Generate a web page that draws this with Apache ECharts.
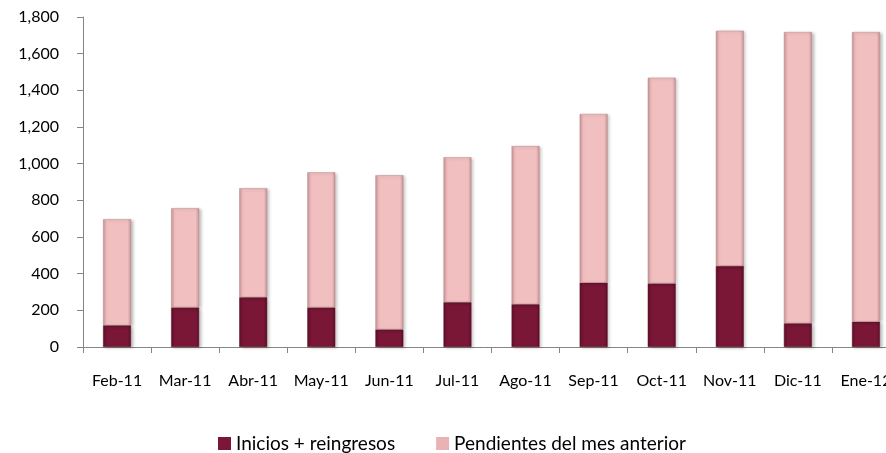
<!DOCTYPE html>
<html>
<head>
<meta charset="utf-8">
<script src="https://cdn.jsdelivr.net/npm/echarts@6/dist/echarts.min.js"></script>
<style>html,body{margin:0;padding:0;background:#fff}#c{width:886px;height:453px}</style>
</head>
<body>
<div id="c"></div>
<script>
const categories = ['Feb-11','Mar-11','Abr-11','May-11','Jun-11','Jul-11','Ago-11','Sep-11','Oct-11','Nov-11','Dic-11','Ene-12'];
const inicios = [118, 216, 271, 216, 96, 244, 233, 351, 347, 442, 129, 138];
const pendientes = [579, 541, 595, 737, 841, 791, 863, 920, 1122, 1283, 1589, 1580];
const seriesNames = ['Inicios + reingresos', 'Pendientes del mes anterior'];

const FONT = 'Lato';
function grad(edge, mid) {
  return new echarts.graphic.LinearGradient(0, 0, 1, 0, [
    {offset: 0, color: edge}, {offset: 0.12, color: mid},
    {offset: 0.88, color: mid}, {offset: 1, color: edge}
  ]);
}
const chart = echarts.init(document.getElementById('c'), null, {renderer: 'canvas'});
chart.setOption({
  animation: false,
  backgroundColor: '#ffffff',
  grid: {left: 83, width: 817, top: 17, height: 330, containLabel: false, outerBoundsMode: 'none'},
  legend: {
    top: 429, left: 213,
    itemWidth: 13, itemHeight: 13, itemGap: 41,
    textStyle: {fontFamily: FONT, fontSize: 19, color: '#000'},
    data: [
      {name: seriesNames[0], icon: 'rect', itemStyle: {color: '#7a1636', borderWidth: 0}},
      {name: seriesNames[1], icon: 'rect', itemStyle: {color: '#e9b2b4', borderWidth: 0}}
    ]
  },
  xAxis: {
    type: 'category', data: categories, boundaryGap: true,
    axisLine: {lineStyle: {color: '#868686', width: 1}},
    axisTick: {show: true, alignWithLabel: false, length: 6, lineStyle: {color: '#868686'}},
    axisLabel: {fontFamily: FONT, fontSize: 16, color: '#000', margin: 26, interval: 0}
  },
  yAxis: {
    type: 'value', min: 0, max: 1800, interval: 200,
    axisLine: {show: true, lineStyle: {color: '#868686', width: 1}},
    axisTick: {show: true, length: 6, lineStyle: {color: '#868686'}},
    splitLine: {show: false},
    axisLabel: {fontFamily: FONT, fontSize: 16, color: '#000', margin: 24,
      formatter: v => v.toLocaleString('en-US')}
  },
  series: [
    {name: seriesNames[0], type: 'bar', stack: 't', data: inicios, barWidth: '41%',
     itemStyle: {color: grad('#5e0f28', '#7a1636'), borderColor: '#5a0e26', borderWidth: 0.5,
       shadowColor: 'rgba(0,0,0,0.25)', shadowBlur: 3, shadowOffsetX: 2, shadowOffsetY: 1}},
    {name: seriesNames[1], type: 'bar', stack: 't', data: pendientes, barWidth: '41%',
     itemStyle: {color: grad('#c99294', '#f2bfc0'), borderColor: '#b98a8c', borderWidth: 0.5,
       shadowColor: 'rgba(0,0,0,0.25)', shadowBlur: 3, shadowOffsetX: 2, shadowOffsetY: 1}}
  ]
});
</script>
</body>
</html>
